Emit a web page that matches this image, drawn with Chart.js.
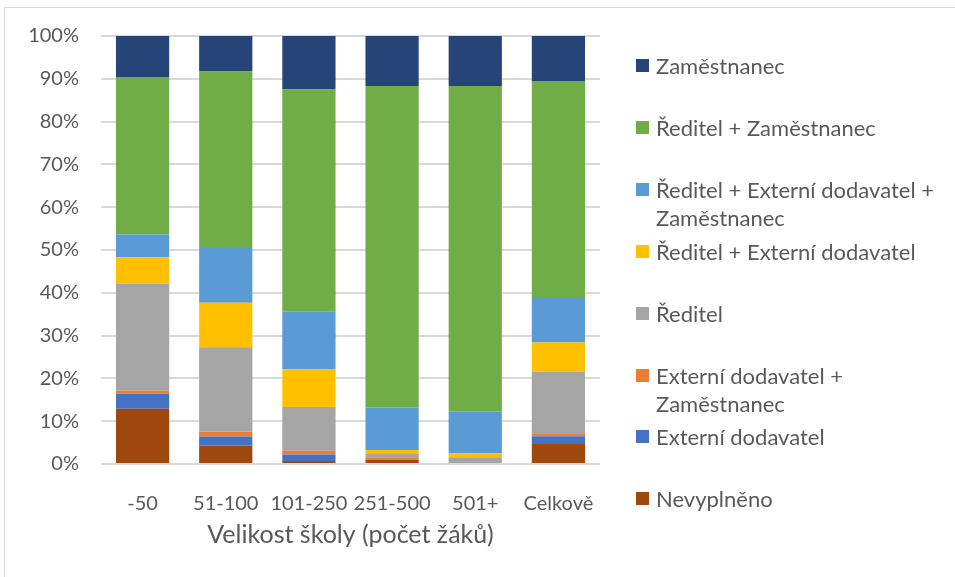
<!DOCTYPE html>
<html lang="cs">

<head>
    <meta charset="UTF-8">
    <title>Velikost školy</title>
    <script src="https://cdn.jsdelivr.net/npm/chart.js@4/dist/chart.umd.min.js"></script>

    <style>
        body {
            margin: 0;
            background: #fff;
        }

        #wrap {
            position: relative;
            width: 955px;
            height: 577px;
            overflow: hidden;
            font-family: Lato, "Open Sans", sans-serif;
        }

        #frame {
            position: absolute;
            left: 4px;
            top: 7px;
            width: 1000px;
            height: 700px;
            border: 1px solid #d9d9d9;
            box-sizing: border-box;
        }

        #chart {
            position: absolute;
            left: 0;
            top: 0;
        }

        #legend {
            position: absolute;
            left: 0;
            top: 0;
            margin: 0;
            padding: 0;
            list-style: none;
        }

        #legend li {
            position: absolute;
            left: 636px;
            white-space: nowrap;
            font-size: 22px;
            line-height: 28px;
            color: #595959;
        }

        #legend .box {
            position: absolute;
            left: 0;
            top: 7px;
            width: 13px;
            height: 13px;
        }

        #legend .txt {
            display: block;
            margin-left: 20px;
        }
    </style>
</head>

<body>
    <div id="wrap">
        <div id="frame"></div>
        <canvas id="chart" width="955" height="577"></canvas>
        <ul id="legend"></ul>
    </div>

    <script>
        // categories (school size by number of pupils)
        const categories = ['-50', '51-100', '101-250', '251-500', '501+', 'Celkově'];

        // shares in %, stacked from the bottom up
        const nevyplneno    = [12.9,  4.3,  0.7,  1.0,  0.0,  4.7];
        const externi       = [ 3.5,  2.1,  1.5,  0.0,  0.0,  1.8];
        const externiZam    = [ 0.7,  1.2,  0.9,  0.6,  0.0,  0.7];
        const reditel       = [25.1, 19.7, 10.2,  0.9,  1.6, 14.4];
        const reditelExt    = [ 6.1, 10.4,  8.8,  0.8,  0.9,  6.8];
        const reditelExtZam = [ 5.3, 13.0, 13.6,  9.9,  9.7, 10.4];
        const reditelZam    = [36.8, 41.0, 51.8, 75.1, 76.1, 50.7];
        const zamestnanec   = [ 9.6,  8.3, 12.5, 11.7, 11.7, 10.5];

        const seriesNames = [
            ['Nevyplněno'],
            ['Externí dodavatel'],
            ['Externí dodavatel +', 'Zaměstnanec'],
            ['Ředitel'],
            ['Ředitel + Externí dodavatel'],
            ['Ředitel + Externí dodavatel +', 'Zaměstnanec'],
            ['Ředitel + Zaměstnanec'],
            ['Zaměstnanec']
        ];
        const seriesValues = [nevyplneno, externi, externiZam, reditel, reditelExt, reditelExtZam, reditelZam, zamestnanec];
        const seriesColors = ['#9E480E', '#4472C4', '#ED7D31', '#A5A5A5', '#FFC000', '#5B9BD5', '#70AD47', '#264478'];

        const yTicks = [0, 10, 20, 30, 40, 50, 60, 70, 80, 90, 100];

        const textColor = '#595959';
        const font = { family: 'Lato', size: 20 };

        const datasets = seriesValues.map((values, i) => ({
            label: seriesNames[i].join(' '),
            data: values,
            backgroundColor: seriesColors[i],
            borderWidth: 0,
            barPercentage: 0.64,
            categoryPercentage: 1
        }));

        new Chart(document.getElementById('chart'), {
            type: 'bar',
            data: {
                labels: categories,
                datasets: datasets
            },
            options: {
                responsive: false,
                animation: false,
                layout: {
                    padding: { left: 0, top: 36, right: 355, bottom: 0 }
                },
                plugins: {
                    legend: { display: false },
                    tooltip: { enabled: false }
                },
                scales: {
                    x: {
                        stacked: true,
                        grid: { display: false },
                        border: { display: false },
                        ticks: { color: textColor, font: font, padding: 20, maxRotation: 0 },
                        title: {
                            display: true,
                            text: 'Velikost školy (počet žáků)',
                            color: textColor,
                            font: { family: 'Lato', size: 25 },
                            padding: { top: 0, bottom: 27 }
                        },
                        afterFit: scale => { scale.height = 113; }
                    },
                    y: {
                        stacked: true,
                        min: 0,
                        max: 100,
                        afterBuildTicks: scale => {
                            scale.ticks = yTicks.map(v => ({ value: v }));
                        },
                        grid: { color: '#D9D9D9', lineWidth: 2, drawTicks: false },
                        border: { display: false },
                        ticks: {
                            color: textColor,
                            font: font,
                            padding: 22,
                            callback: v => v + '%'
                        },
                        afterFit: scale => { scale.width = 101; }
                    }
                }
            }
        });

        // legend on the right, top entry = top of the stack
        const legend = document.getElementById('legend');
        const firstCenter = 66;
        const step = 61.9;
        seriesNames.slice().reverse().forEach((lines, i) => {
            const idx = seriesNames.length - 1 - i;
            const li = document.createElement('li');
            li.style.top = (firstCenter + i * step - 14) + 'px';
            li.innerHTML = `<span class="box" style="background:${seriesColors[idx]}"></span>` +
                lines.map(t => `<span class="txt">${t}</span>`).join('');
            legend.appendChild(li);
        });
    </script>
</body>

</html>
